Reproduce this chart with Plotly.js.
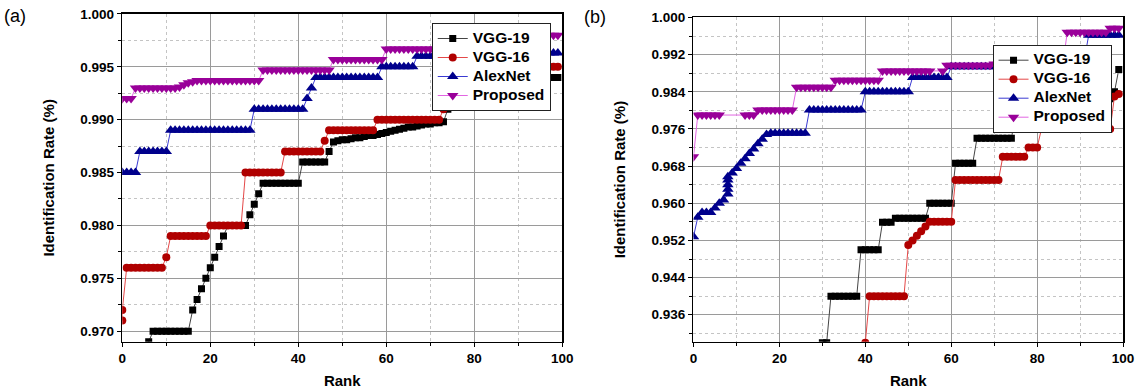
<!DOCTYPE html>
<html><head><meta charset="utf-8">
<script src="https://cdn.plot.ly/plotly-3.0.1.min.js"></script>
<style>html,body{margin:0;padding:0;background:#fff;}#chart{width:1144px;height:392px;}</style>
</head><body><div id="chart"></div>
<script>
const seriesNames = ['VGG-19', 'VGG-16', 'AlexNet', 'Proposed'];
const rankX = [0,1,2,3,4,5,6,7,8,9,10,11,12,13,14,15,16,17,18,19,20,21,22,23,24,25,26,27,28,29,30,31,32,33,34,35,36,37,38,39,40,41,42,43,44,45,46,47,48,49,50,51,52,53,54,55,56,57,58,59,60,61,62,63,64,65,66,67,68,69,70,71,72,73,74,75,76,77,78,79,80,81,82,83,84,85,86,87,88,89,90,91,92,93,94,95,96,97,98,99];

// ---- Panel (a) ----
const vgg19A = [null,null,null,null,null,null,0.969,
  0.970,0.970,0.970,0.970,0.970,0.970,0.970,0.970,0.970,
  0.972,0.973,0.974,0.975,0.976,0.977,0.978,0.979,
  0.980,0.980,0.980,0.980,0.980,
  0.981,0.982,0.983,
  0.984,0.984,0.984,0.984,0.984,0.984,0.984,0.984,0.984,
  0.986,0.986,0.986,0.986,0.986,0.986,
  0.987,
  0.9879,0.9880,0.9881,0.9881,0.9882,0.9883,0.9883,0.9884,0.9885,0.9885,0.9886,0.9887,0.9888,
  0.9889,0.9890,0.9891,0.9892,0.9893,0.9893,0.9894,0.9895,0.9896,0.9896,0.9897,0.9897,0.9898,
  0.991,
  0.992,0.992,0.992,0.992,0.992,0.992,0.992,0.992,0.992,0.992,0.992,
  0.993,0.993,0.993,0.993,0.993,0.993,0.993,0.993,
  0.994,0.994,0.994,0.994,0.994,0.994];

const vgg16AX = [0,0,1,2,3,4,5,6,7,8,9,10,11,12,13,14,15,16,17,18,19,20,21,22,23,24,25,26,27,28,29,30,31,32,33,34,35,36,37,38,39,40,41,42,43,44,45,46,47,48,49,50,51,52,53,54,55,56,57,58,59,60,61,62,63,64,65,66,67,68,69,70,71,72,73,74,75,76,77,78,79,80,81,82,83,84,85,86,87,88,89,90,91,92,93,94,95,96,97,98,99];
const vgg16A = [0.971,0.972,
  0.976,0.976,0.976,0.976,0.976,0.976,0.976,0.976,0.976,
  0.977,
  0.979,0.979,0.979,0.979,0.979,0.979,0.979,0.979,0.979,
  0.980,0.980,0.980,0.980,0.980,0.980,0.980,0.980,
  0.985,0.985,0.985,0.985,0.985,0.985,0.985,0.985,0.985,
  0.987,0.987,0.987,0.987,0.987,0.987,0.987,0.987,0.987,
  0.988,
  0.989,0.989,0.989,0.989,0.989,0.989,0.989,0.989,0.989,0.989,0.989,
  0.990,0.990,0.990,0.990,0.990,0.990,0.990,0.990,0.990,0.990,0.990,0.990,0.990,0.990,0.990,
  0.991,
  0.992,0.992,0.992,0.992,0.992,0.992,0.992,0.992,0.992,0.992,0.992,
  0.993,0.993,0.993,0.993,0.993,0.993,0.993,0.993,
  0.994,0.994,0.994,0.994,
  0.995,0.995,0.995];

const alexA = [0.985,0.985,0.985,0.985,
  0.987,0.987,0.987,0.987,0.987,0.987,0.987,
  0.989,0.989,0.989,0.989,0.989,0.989,0.989,0.989,0.989,0.989,0.989,0.989,0.989,0.989,0.989,0.989,0.989,0.989,0.989,
  0.991,0.991,0.991,0.991,0.991,0.991,0.991,0.991,0.991,0.991,0.991,0.991,
  0.992,0.993,
  0.994,0.994,0.994,0.994,0.994,0.994,0.994,0.994,0.994,0.994,0.994,0.994,0.994,0.994,0.994,
  0.995,0.995,0.995,0.995,0.995,0.995,0.995,0.995,
  0.996,0.996,0.996,0.996,0.996,0.996,0.996,0.996,0.996,0.996,0.996,0.996,0.996,0.996,0.996,
  0.996,0.996,0.996,0.996,0.996,0.996,0.996,0.996,0.996,0.996,0.996,0.996,0.996,0.996,0.996,
  0.9963,0.9963,0.9963];

const propA = [0.992,0.992,0.992,
  0.993,0.993,0.993,0.993,0.993,0.993,0.993,0.993,0.993,0.993,
  0.9931,0.9933,0.9935,0.9936,0.9937,
  0.9937,0.9937,0.9937,0.9937,0.9937,0.9937,0.9937,0.9937,0.9937,0.9937,0.9937,0.9937,0.9937,0.9937,
  0.9947,0.9947,0.9947,0.9947,0.9947,0.9947,0.9947,0.9947,0.9947,0.9947,0.9947,0.9947,0.9947,0.9947,0.9947,0.9947,
  0.9957,0.9957,0.9957,0.9957,0.9957,0.9957,0.9957,0.9957,0.9957,0.9957,0.9957,0.9957,
  0.9967,0.9967,0.9967,0.9967,0.9967,0.9967,0.9967,0.9967,0.9967,0.9967,0.9967,0.9967,0.9967,0.9967,0.9967,0.9967,
  0.9972,0.9972,0.9972,0.9972,0.9972,0.9972,0.9972,0.9972,0.9972,0.9972,0.9972,0.9972,0.9972,0.9972,0.9972,
  0.998,0.998,0.998,0.998,0.998,0.998,0.998,0.998,0.998];

// ---- Panel (b) ----
const vgg19B = [null,null,null,null,null,null,null,null,null,null,null,null,null,null,null,
  null,null,null,null,null,null,null,null,null,null,null,null,null,null,null,
  0.930,0.930,
  0.940,0.940,0.940,0.940,0.940,0.940,0.940,
  0.950,0.950,0.950,0.950,0.950,
  0.9559,0.9559,0.9559,
  0.9568,0.9568,0.9568,0.9568,0.9568,0.9568,0.9568,0.9568,
  0.960,0.960,0.960,0.960,0.960,0.960,
  0.9686,0.9686,0.9686,0.9686,0.9686,
  0.974,0.974,0.974,0.974,0.974,0.974,0.974,0.974,0.974,
  0.979,0.979,0.979,0.979,0.979,0.979,0.979,0.979,0.979,0.979,
  0.981,0.981,0.981,0.981,0.981,0.981,0.981,0.981,
  0.9825,0.9825,0.9825,0.9825,0.9825,
  0.984,0.9888];

const vgg16B = [null,null,null,null,null,null,null,null,null,null,null,null,null,null,null,null,null,null,null,null,
  null,null,null,null,null,null,null,null,null,null,null,null,null,null,null,null,null,null,null,null,
  0.930,
  0.940,0.940,0.940,0.940,0.940,0.940,0.940,0.940,0.940,
  0.951,0.952,0.953,0.954,0.955,
  0.956,0.956,0.956,0.956,0.956,0.956,
  0.965,0.965,0.965,0.965,0.965,0.965,0.965,0.965,0.965,0.965,0.965,
  0.970,0.970,0.970,0.970,0.970,0.970,
  0.972,0.972,0.972,
  0.976,0.976,0.976,0.976,0.976,0.976,0.976,0.976,0.976,0.976,0.976,0.976,0.976,0.976,0.976,0.976,0.976,
  0.983,0.9835];

const alexBX = [0,1,2,3,4,5,6,7,8,8,8,8,8,9,10,11,12,13,14,15,16,17,18,19,20,21,22,23,24,25,26,27,28,29,30,31,32,33,34,35,36,37,38,39,40,41,42,43,44,45,46,47,48,49,50,51,52,53,54,55,56,57,58,59,60,61,62,63,64,65,66,67,68,69,70,71,72,73,74,75,76,77,78,79,80,81,82,83,84,85,86,87,88,89,90,91,92,93,94,95,96,97,98,99];
const alexB = [0.9528,0.9570,0.958,0.958,0.958,0.959,0.960,0.9607,
  0.962,0.963,0.964,0.965,0.9657,
  0.9665,0.9675,0.9686,0.9696,0.9707,0.9717,0.9728,0.9738,0.9748,
  0.9751,0.9751,0.9751,0.9751,0.9751,0.9751,0.9751,0.9751,0.9751,
  0.9801,0.9801,0.9801,0.9801,0.9801,0.9801,0.9801,0.9801,0.9801,0.9801,0.9801,0.9801,0.9801,
  0.9840,0.9840,0.9840,0.9840,0.9840,0.9840,0.9840,0.9840,0.9840,0.9840,0.9840,
  0.9871,0.9871,0.9871,0.9871,0.9871,0.9871,0.9871,0.9871,0.9871,
  0.9894,0.9894,0.9894,0.9894,0.9894,0.9894,0.9894,0.9894,0.9894,0.9894,0.9894,
  0.9894,0.9894,0.9894,0.9894,0.9894,0.9894,0.9894,0.9894,0.9894,0.9894,
  0.991,0.991,0.991,0.991,0.991,0.991,0.991,0.991,0.991,0.991,0.991,
  0.9962,0.9962,0.9962,0.9962,0.9962,0.9962,0.9962,0.9962];

const propB = [0.970,
  0.979,0.979,0.979,0.979,0.979,0.979,
  null,null,null,null,null,
  0.979,0.979,0.979,
  0.9801,0.9801,0.9801,0.9801,0.9801,0.9801,0.9801,0.9801,0.9801,
  0.9850,0.9850,0.9850,0.9850,0.9850,0.9850,0.9850,0.9850,0.9850,
  0.9865,0.9865,0.9865,0.9865,0.9865,0.9865,0.9865,0.9865,0.9865,0.9865,0.9865,
  0.9885,0.9885,0.9885,0.9885,0.9885,0.9885,0.9885,0.9885,0.9885,0.9885,0.9885,0.9885,
  null,null,
  0.9885,
  0.9897,0.9897,0.9897,0.9897,0.9897,0.9897,0.9897,0.9897,0.9897,0.9897,0.9897,
  0.9900,0.9900,0.9900,0.9900,0.9900,0.9900,0.9900,0.9900,0.9900,0.9900,0.9900,0.9900,0.9900,0.9900,0.9900,0.9900,0.9900,
  0.9968,0.9968,0.9968,0.9968,0.9968,0.9968,0.9968,0.9968,0.9968,0.9968,
  0.9977,0.9977,0.9977];

const FONT = 'Liberation Sans, Arial, sans-serif';
const styles = [
  {marker: '#000000', line: '#444444', symbol: 'square', size: 7},
  {marker: '#b00000', line: '#e44848', symbol: 'circle', size: 8},
  {marker: '#00008c', line: '#3a3ad2', symbol: 'triangle-up', size: 10},
  {marker: '#990099', line: '#e266e2', symbol: 'triangle-down', size: 10}
];

function mk(name, idx, x, y, xa, ya, leg) {
  const s = styles[idx];
  return {
    type: 'scatter', mode: 'lines+markers',
    name: '<span style="font-size:15.5px">' + name + '</span>',
    x: x, y: y,
    xaxis: xa, yaxis: ya, legend: leg, connectgaps: true,
    line: {color: s.line, width: 1},
    marker: {color: s.marker, symbol: s.symbol, size: s.size, line: {width: 0}}
  };
}

const traces = [
  mk(seriesNames[0], 0, rankX, vgg19A, 'x', 'y', 'legend'),
  mk(seriesNames[1], 1, vgg16AX, vgg16A, 'x', 'y', 'legend'),
  mk(seriesNames[2], 2, rankX, alexA, 'x', 'y', 'legend'),
  mk(seriesNames[3], 3, rankX, propA, 'x', 'y', 'legend'),
  mk(seriesNames[0], 0, rankX, vgg19B, 'x2', 'y2', 'legend2'),
  mk(seriesNames[1], 1, rankX, vgg16B, 'x2', 'y2', 'legend2'),
  mk(seriesNames[2], 2, alexBX, alexB, 'x2', 'y2', 'legend2'),
  mk(seriesNames[3], 3, rankX, propB, 'x2', 'y2', 'legend2')
];

const tickFont = {family: FONT, size: 13.5, color: '#000', weight: 'bold'};
const titleFont = {family: FONT, size: 15, color: '#000', weight: 'bold'};
const minorX = {dtick: 10, tick0: 0, ticks: 'outside', ticklen: 3, tickcolor: '#000', showgrid: true, gridcolor: '#c4c4c4', griddash: 'dot', gridwidth: 1};

function axisBase() {
  return {
    showline: true, linecolor: '#000', linewidth: 1.5, mirror: true,
    ticks: 'outside', ticklen: 4, tickwidth: 1, tickcolor: '#000',
    showgrid: true, gridcolor: '#9a9a9a', gridwidth: 1, zeroline: false,
    tickfont: tickFont, automargin: false, fixedrange: true
  };
}

const xA = Object.assign(axisBase(), {
  domain: [0.1069, 0.4915], range: [0, 100], anchor: 'y', dtick: 20, tick0: 0,
  minor: minorX,
  title: {text: 'Rank', font: titleFont, standoff: 10}
});
const yA = Object.assign(axisBase(), {
  domain: [0.1283, 0.9643], range: [0.969, 1.0], anchor: 'x', dtick: 0.005, tick0: 1.0, tickformat: '.3f',
  minor: {dtick: 0.0025, tick0: 1.0, ticks: 'outside', ticklen: 3, tickcolor: '#000', showgrid: true, gridcolor: '#c4c4c4', griddash: 'dot', gridwidth: 1},
  title: {text: 'Identification Rate (%)', font: titleFont, standoff: 22}
});
const xB = Object.assign(axisBase(), {
  domain: [0.6062, 0.9817], range: [0, 100], anchor: 'y2', dtick: 20, tick0: 0,
  minor: minorX,
  title: {text: 'Rank', font: titleFont, standoff: 10}
});
const yB = Object.assign(axisBase(), {
  domain: [0.1283, 0.9554], range: [0.9302, 1.0], anchor: 'x2', dtick: 0.008, tick0: 1.0, tickformat: '.3f',
  minor: {dtick: 0.004, tick0: 1.0, ticks: 'outside', ticklen: 3, tickcolor: '#000', showgrid: true, gridcolor: '#c4c4c4', griddash: 'dot', gridwidth: 1},
  title: {text: 'Identification Rate (%)', font: titleFont, standoff: 22}
});

const legendBase = {
  xanchor: 'left', yanchor: 'top', bgcolor: '#ffffff', bordercolor: '#222', borderwidth: 1,
  font: {family: FONT, size: 10.5, color: '#000', weight: 'bold'}, tracegroupgap: 0, itemwidth: 30
};

const layout = {
  width: 1144, height: 392,
  margin: {l: 0, r: 0, t: 0, b: 0},
  paper_bgcolor: '#fff', plot_bgcolor: '#fff',
  showlegend: true,
  xaxis: xA, yaxis: yA, xaxis2: xB, yaxis2: yB,
  legend: Object.assign({x: 0.3774, y: 0.9413}, legendBase),
  legend2: Object.assign({x: 0.8676, y: 0.886}, legendBase),
  annotations: [
    {text: '(a)', xref: 'paper', yref: 'paper', x: 0.002, y: 0.96, xanchor: 'left', yanchor: 'middle', showarrow: false, font: {family: FONT, size: 18, color: '#000'}},
    {text: '(b)', xref: 'paper', yref: 'paper', x: 0.509, y: 0.957, xanchor: 'left', yanchor: 'middle', showarrow: false, font: {family: FONT, size: 18, color: '#000'}}
  ]
};

Plotly.newPlot('chart', traces, layout, {displayModeBar: false, staticPlot: true});
</script>
</body></html>
